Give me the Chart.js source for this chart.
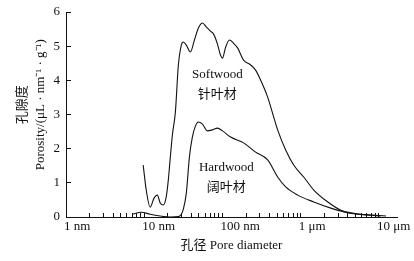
<!DOCTYPE html>
<html>
<head>
<meta charset="utf-8">
<script src="https://cdn.jsdelivr.net/npm/chart.js@4/dist/chart.umd.min.js"></script>
<style>
  html, body { margin: 0; padding: 0; background: #fff; }
</style>
</head>
<body>
<canvas id="poreChart" width="414" height="261"></canvas>
<script>
'use strict';

// pore diameter (nm) / porosity (uL nm-1 g-1)
var softwoodDiameter = [9.7, 10.6, 11.9, 13.4, 14.7, 16.0, 17.5, 19.1, 20.3, 21.5,
    22.9, 25.0, 27.3, 29.8, 31.6, 34.5, 38.9, 43.8, 49.2, 55.4,
    62.3, 70.2, 76.7, 86.3, 94.2, 100, 109, 123, 138, 156,
    186, 229, 265, 307, 378, 451, 507, 642, 813, 1092,
    1468, 2219, 3258, 4377, 6813, 10600];
var softwoodPorosity = [1.52, 0.79, 0.29, 0.56, 0.64, 0.41, 0.35, 0.59, 1.08, 1.73,
    2.40, 3.07, 4.45, 5.03, 5.12, 5.03, 4.83, 5.18, 5.53, 5.68,
    5.56, 5.44, 5.36, 5.06, 4.74, 4.65, 4.95, 5.18, 5.09, 4.95,
    4.59, 4.45, 4.30, 4.01, 3.51, 2.93, 2.55, 1.96, 1.52, 1.17,
    0.79, 0.44, 0.20, 0.12, 0.06, 0.03];

var hardwoodDiameter = [7.0, 9.2, 11.9, 16.0, 21.5, 27.3, 29.8, 31.6, 34.5, 37.8,
    41.2, 45.1, 49.2, 55.4, 64.2, 74.5, 86.3, 100, 127, 186,
    265, 378, 507, 642, 916, 1468, 2425, 3557, 5070, 7890,
    12300];
var hardwoodPorosity = [0.08, 0.14, 0.08, 0.03, 0.0, 0.01, 0.08, 0.23, 0.70, 1.76,
    2.34, 2.66, 2.78, 2.72, 2.52, 2.55, 2.60, 2.52, 2.34, 2.17,
    1.90, 1.67, 1.17, 0.88, 0.64, 0.44, 0.26, 0.15, 0.09, 0.06,
    0.03];

var decadeTicks = [1, 10, 100, 1000, 10000];
var decadeLabels = ['1 nm', '10 nm', '100 nm', '1 μm', '10 μm'];

var serif = "'Liberation Serif', 'Times New Roman', 'Noto Sans CJK SC', serif";
var ink = '#111';

function toPoints(xs, ys) {
    return xs.map(function (x, i) { return { x: x, y: ys[i] }; });
}

// softwood / hardwood captions inside the plot
var curveLabels = {
    id: 'curveLabels',
    afterDatasetsDraw: function (chart) {
        var ctx = chart.ctx,
            xs = chart.scales.x,
            ys = chart.scales.y;
        var items = [
            { lines: ['Softwood', '针叶材'], x: 86, y: 4.18 },
            { lines: ['Hardwood', '阔叶材'], x: 112, y: 1.46 }
        ];
        ctx.save();
        ctx.fillStyle = ink;
        ctx.textAlign = 'center';
        ctx.textBaseline = 'middle';
        ctx.font = '13px ' + serif;
        items.forEach(function (it) {
            var px = xs.getPixelForValue(it.x),
                py = ys.getPixelForValue(it.y);
            ctx.fillText(it.lines[0], px, py);
            ctx.fillText(it.lines[1], px, py + 20);
        });
        ctx.restore();
    }
};

var commonLine = {
    borderColor: ink,
    borderWidth: 1.1,
    pointRadius: 0,
    fill: false,
    cubicInterpolationMode: 'monotone'
};

new Chart(document.getElementById('poreChart'), {
    type: 'line',
    data: {
        datasets: [
            Object.assign({ label: 'Softwood', data: toPoints(softwoodDiameter, softwoodPorosity) }, commonLine),
            Object.assign({ label: 'Hardwood', data: toPoints(hardwoodDiameter, hardwoodPorosity) }, commonLine)
        ]
    },
    options: {
        responsive: false,
        animation: false,
        layout: { padding: { left: 0, right: 17, top: 12, bottom: 0 } },
        plugins: {
            legend: { display: false },
            tooltip: { enabled: false }
        },
        scales: {
            x: {
                type: 'logarithmic',
                min: 1,
                max: 17000,
                afterBuildTicks: function (scale) {
                    var t = [];
                    for (var d = 1; d < 10000; d *= 10) {
                        for (var m = 1; m < 10; m++) t.push({ value: d * m });
                    }
                    t.push({ value: 10000 });
                    scale.ticks = t;
                },
                afterFit: function (scale) {
                    scale.height = 44;
                    scale.paddingLeft = 0;
                    scale.paddingRight = 0;
                },
                border: { display: true, color: ink, width: 1 },
                grid: { drawOnChartArea: false, drawTicks: true, tickLength: -4, color: ink },
                ticks: {
                    autoSkip: false,
                    maxRotation: 0,
                    align: 'start',
                    labelOffset: -2,
                    padding: 6,
                    color: ink,
                    font: { family: serif, size: 13 },
                    callback: function (value) {
                        var i = decadeTicks.indexOf(value);
                        return i >= 0 ? decadeLabels[i] : '';
                    }
                },
                title: {
                    display: true,
                    text: '孔径 Pore diameter',
                    color: ink,
                    font: { family: serif, size: 13 },
                    padding: { top: 0, bottom: 8 }
                }
            },
            y: {
                min: 0,
                max: 6,
                afterFit: function (scale) {
                    scale.width = 66;
                    scale.paddingTop = 0;
                    scale.paddingBottom = 0;
                },
                border: { display: true, color: ink, width: 1 },
                grid: { drawOnChartArea: false, drawTicks: true, tickLength: -5, color: ink },
                ticks: {
                    stepSize: 1,
                    padding: 11,
                    color: ink,
                    font: { family: serif, size: 13 }
                },
                title: {
                    display: true,
                    // leading spaces nudge the rotated title up a little, as in the original
                    text: ['      孔隙度', '      Porosity/(μL · nm⁻¹ · g⁻¹)'],
                    color: ink,
                    font: { family: serif, size: 13, lineHeight: 1.4 },
                    padding: { top: 13, bottom: 0 }
                }
            }
        }
    },
    plugins: [curveLabels]
});
</script>
</body>
</html>
